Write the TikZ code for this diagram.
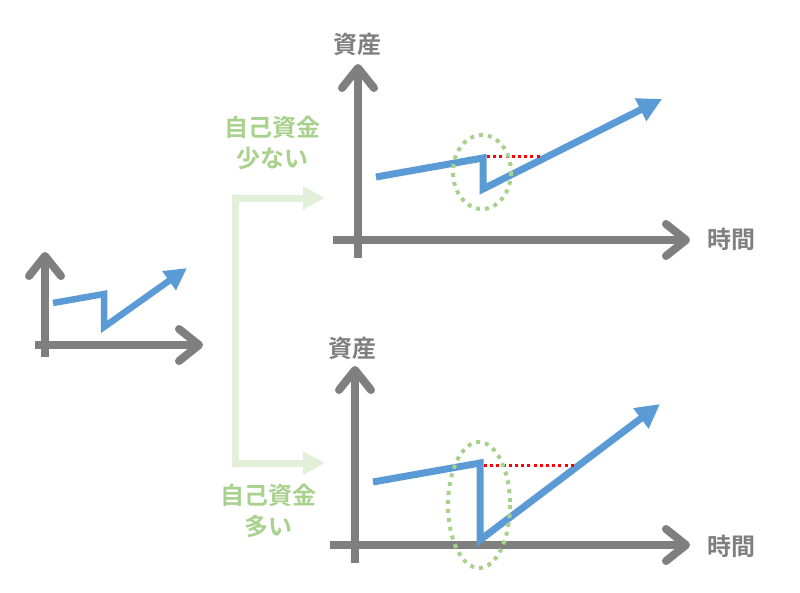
\documentclass[tikz,border=0pt]{standalone}
\usepackage{fontspec}
\newfontfamily\jp{Noto Sans CJK JP}[BoldFont={Noto Sans CJK JP Bold}]
\usetikzlibrary{arrows.meta}
\definecolor{axisgray}{HTML}{7F7F7F}
\definecolor{lineblue}{HTML}{5B9BD5}
\definecolor{bracketgreen}{HTML}{E2F0D9}
\definecolor{labelgreen}{HTML}{A9D18E}
\definecolor{dotred}{HTML}{FF0000}
\tikzset{
  axis/.style={draw=axisgray, line width=8pt, -{Straight Barb[length=20pt, width=32pt, round]}},
  trend/.style={draw=lineblue, line width=7pt, line join=miter, -{Triangle[length=24pt, width=24pt]}},
  bracket/.style={draw=bracketgreen, line width=7pt, -{Triangle[length=22pt, width=22pt]}},
  gap/.style={draw=dotred, line width=3pt, dash pattern=on 3pt off 3.2pt},
  ring/.style={draw=labelgreen, line width=4pt, dash pattern=on 4pt off 5pt},
  axlabel/.style={text=axisgray, font=\jp\bfseries\fontsize{24}{28}\selectfont, inner sep=0pt},
  caselabel/.style={text=labelgreen, font=\jp\bfseries\fontsize{24}{31}\selectfont, align=center, inner sep=0pt},
}
\begin{document}
\begin{tikzpicture}[x=1pt, y=-1pt]
\useasboundingbox (0,0) rectangle (800,592);

% small chart
\coordinate (sy0) at (45,357);
\coordinate (sy1) at (45,252);
\coordinate (sx0) at (35,345);
\coordinate (sx1) at (203,345);
\draw[axis] (sy0) -- (sy1);
\draw[axis] (sx0) -- (sx1);
\coordinate (sb0) at (53,303);
\coordinate (sb1) at (104,294);
\coordinate (sb2) at (104,327);
\coordinate (sb3) at (187,268);
\draw[trend, line width=6.5pt, -{Triangle[length=22pt, width=22pt]}] (sb0) -- (sb1) -- (sb2) -- (sb3);

% bracket
\coordinate (bt) at (235,198);
\coordinate (bb) at (235,463);
\coordinate (bte) at (325,198);
\coordinate (bbe) at (325,463);
\draw[bracket] (bb) -- (bt) -- (bte);
\draw[bracket] (bt) -- (bb) -- (bbe);

% labels
\node[caselabel] (lblA) at (272,143) {自己資金\\少ない};
\node[caselabel] (lblB) at (268,511) {自己資金\\多い};

% top chart
\coordinate (ty0) at (358,258);
\coordinate (ty1) at (358,64);
\coordinate (tx0) at (333,240);
\coordinate (tx1) at (690,240);
\draw[axis] (ty0) -- (ty1);
\draw[axis] (tx0) -- (tx1);
\node[axlabel] (tya) at (357,44) {資産};
\node[axlabel] (txa) at (731,239) {時間};
\coordinate (tb0) at (376,177);
\coordinate (tb1) at (483,158);
\coordinate (tb2) at (483,189);
\coordinate (tb3) at (662,99);
\draw[trend] (tb0) -- (tb1) -- (tb2) -- (tb3);
\coordinate (tg0) at (487,156);
\coordinate (tg1) at (541,156);
\draw[gap] (tg0) -- (tg1);
\draw[ring] (482,172) ellipse [x radius=29, y radius=37];

% bottom chart
\coordinate (by0) at (355,563);
\coordinate (by1) at (355,366);
\coordinate (bx0) at (330,545);
\coordinate (bx1) at (690,545);
\draw[axis] (by0) -- (by1);
\draw[axis] (bx0) -- (bx1);
\node[axlabel] (bya) at (352,348) {資産};
\node[axlabel] (bxa) at (731,546) {時間};
\coordinate (bb0) at (373,482);
\coordinate (bb1) at (480,463);
\coordinate (bb2) at (480,540);
\coordinate (bb3) at (660,404);
\draw[trend] (bb0) -- (bb1) -- (bb2) -- (bb3);
\coordinate (bg0) at (484,465);
\coordinate (bg1) at (574,465);
\draw[gap] (bg0) -- (bg1);
\draw[ring] (479,505) ellipse [x radius=31, y radius=63];
\end{tikzpicture}
\end{document}
